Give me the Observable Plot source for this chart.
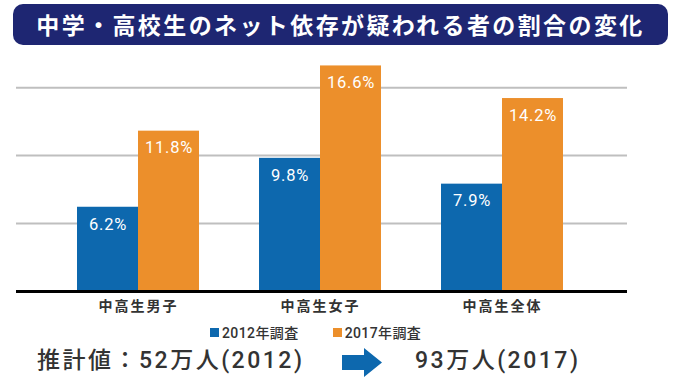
<!DOCTYPE html>
<html><head><meta charset="utf-8">
<script src="https://cdn.jsdelivr.net/npm/d3@7"></script>
<script src="https://cdn.jsdelivr.net/npm/@observablehq/plot@0.6"></script>
<style>
body{margin:0;background:#fff;font-family:Roboto,"Noto Sans CJK JP",sans-serif;width:682px;height:387px;overflow:hidden;position:relative}
#title{position:absolute;left:13px;top:4px;width:655px;height:41px;border-radius:10px;background:#1e2672;color:#fff;font-weight:bold;font-size:23px;font-family:"Noto Sans CJK JP",sans-serif;letter-spacing:2.4px;line-height:41px;text-align:center}
#chart{position:absolute;left:0;top:50px}
#chart g[aria-label="x-axis tick label"] text{letter-spacing:2px}
#chart g[aria-label="text"] text{letter-spacing:0.8px}
#legend{position:absolute;left:210px;top:322px;height:20px;display:flex;align-items:center;font-size:14px;font-weight:500;color:#333;letter-spacing:0.4px}
#legend .item{display:flex;align-items:center;margin-right:34px}
#legend .sw{width:9px;height:9px;margin-right:3px}
.est{position:absolute;top:342px;height:38px;line-height:38px;font-size:23px;font-weight:500;color:#333;letter-spacing:2.5px}
#arrow{position:absolute;left:342px;top:348px}
</style>
</head><body>
<div id="title"></div>
<div id="chart"></div>
<div id="legend"></div>
<div class="est" id="est1" style="left:37px"></div>
<svg id="arrow" width="40" height="30" viewBox="0 0 40 30"><polygon points="0,7 22,7 22,0 40,14.5 22,29 22,22 0,22" fill="#0d68ae"/></svg>
<div class="est" id="est2" style="left:415px"></div>
<script>
const titleText = "中学・高校生のネット依存が疑われる者の割合の変化";
const groups = ["中高生男子", "中高生女子", "中高生全体"];
const series = ["2012年調査", "2017年調査"];
const v2012 = [6.2, 9.8, 7.9];
const v2017 = [11.8, 16.6, 14.2];
const gridValues = [5, 10, 15];
const colors = ["#0d68ae", "#ec8f2b"];
const estLabel = "推計値：";
const estYears = ["2012", "2017"];
const estValues = ["52万人", "93万人"];

document.getElementById("title").textContent = titleText;

const d2012 = groups.map((g, i) => ({group: g, value: v2012[i]}));
const d2017 = groups.map((g, i) => ({group: g, value: v2017[i]}));
const half = 61; // half of the group band width
const fmt = d => d.value.toFixed(1) + "%";

const plot = Plot.plot({
  width: 682, height: 272,
  marginLeft: 16, marginRight: 55, marginTop: 10, marginBottom: 31,
  style: {fontFamily: 'Roboto, "Noto Sans CJK JP", sans-serif', background: "white"},
  x: {domain: groups, paddingInner: 0.33, paddingOuter: 0.342, align: 0.484, label: null},
  y: {domain: [0, 17], axis: null},
  marks: [
    Plot.ruleY(gridValues, {stroke: "#bfbfbf", strokeWidth: 2}),
    Plot.barY(d2012, {x: "group", y: "value", fill: colors[0], insetRight: half}),
    Plot.barY(d2017, {x: "group", y: "value", fill: colors[1], insetLeft: half}),
    Plot.ruleY([0], {stroke: "#000", strokeWidth: 3}),
    Plot.text(d2012, {x: "group", y: "value", text: fmt, dx: -half / 2, dy: 17, fill: "white", fontSize: 16.5, fontWeight: 400}),
    Plot.text(d2017, {x: "group", y: "value", text: fmt, dx: half / 2, dy: 17, fill: "white", fontSize: 16.5, fontWeight: 400}),
    Plot.axisX({anchor: "bottom", tickSize: 0, tickPadding: 10, fontSize: 14, fontWeight: "bold", fill: "#333", label: null, fontFamily: '"Noto Sans CJK JP", sans-serif'})
  ]
});
document.getElementById("chart").appendChild(plot);

const legend = document.getElementById("legend");
series.forEach((s, i) => {
  const item = document.createElement("div");
  item.className = "item";
  const sw = document.createElement("div");
  sw.className = "sw";
  sw.style.background = colors[i];
  const t = document.createElement("span");
  t.textContent = s;
  item.appendChild(sw); item.appendChild(t);
  legend.appendChild(item);
});
document.getElementById("est1").textContent = estLabel + estValues[0] + "(" + estYears[0] + ")";
document.getElementById("est2").textContent = estValues[1] + "(" + estYears[1] + ")";
</script>
</body></html>
